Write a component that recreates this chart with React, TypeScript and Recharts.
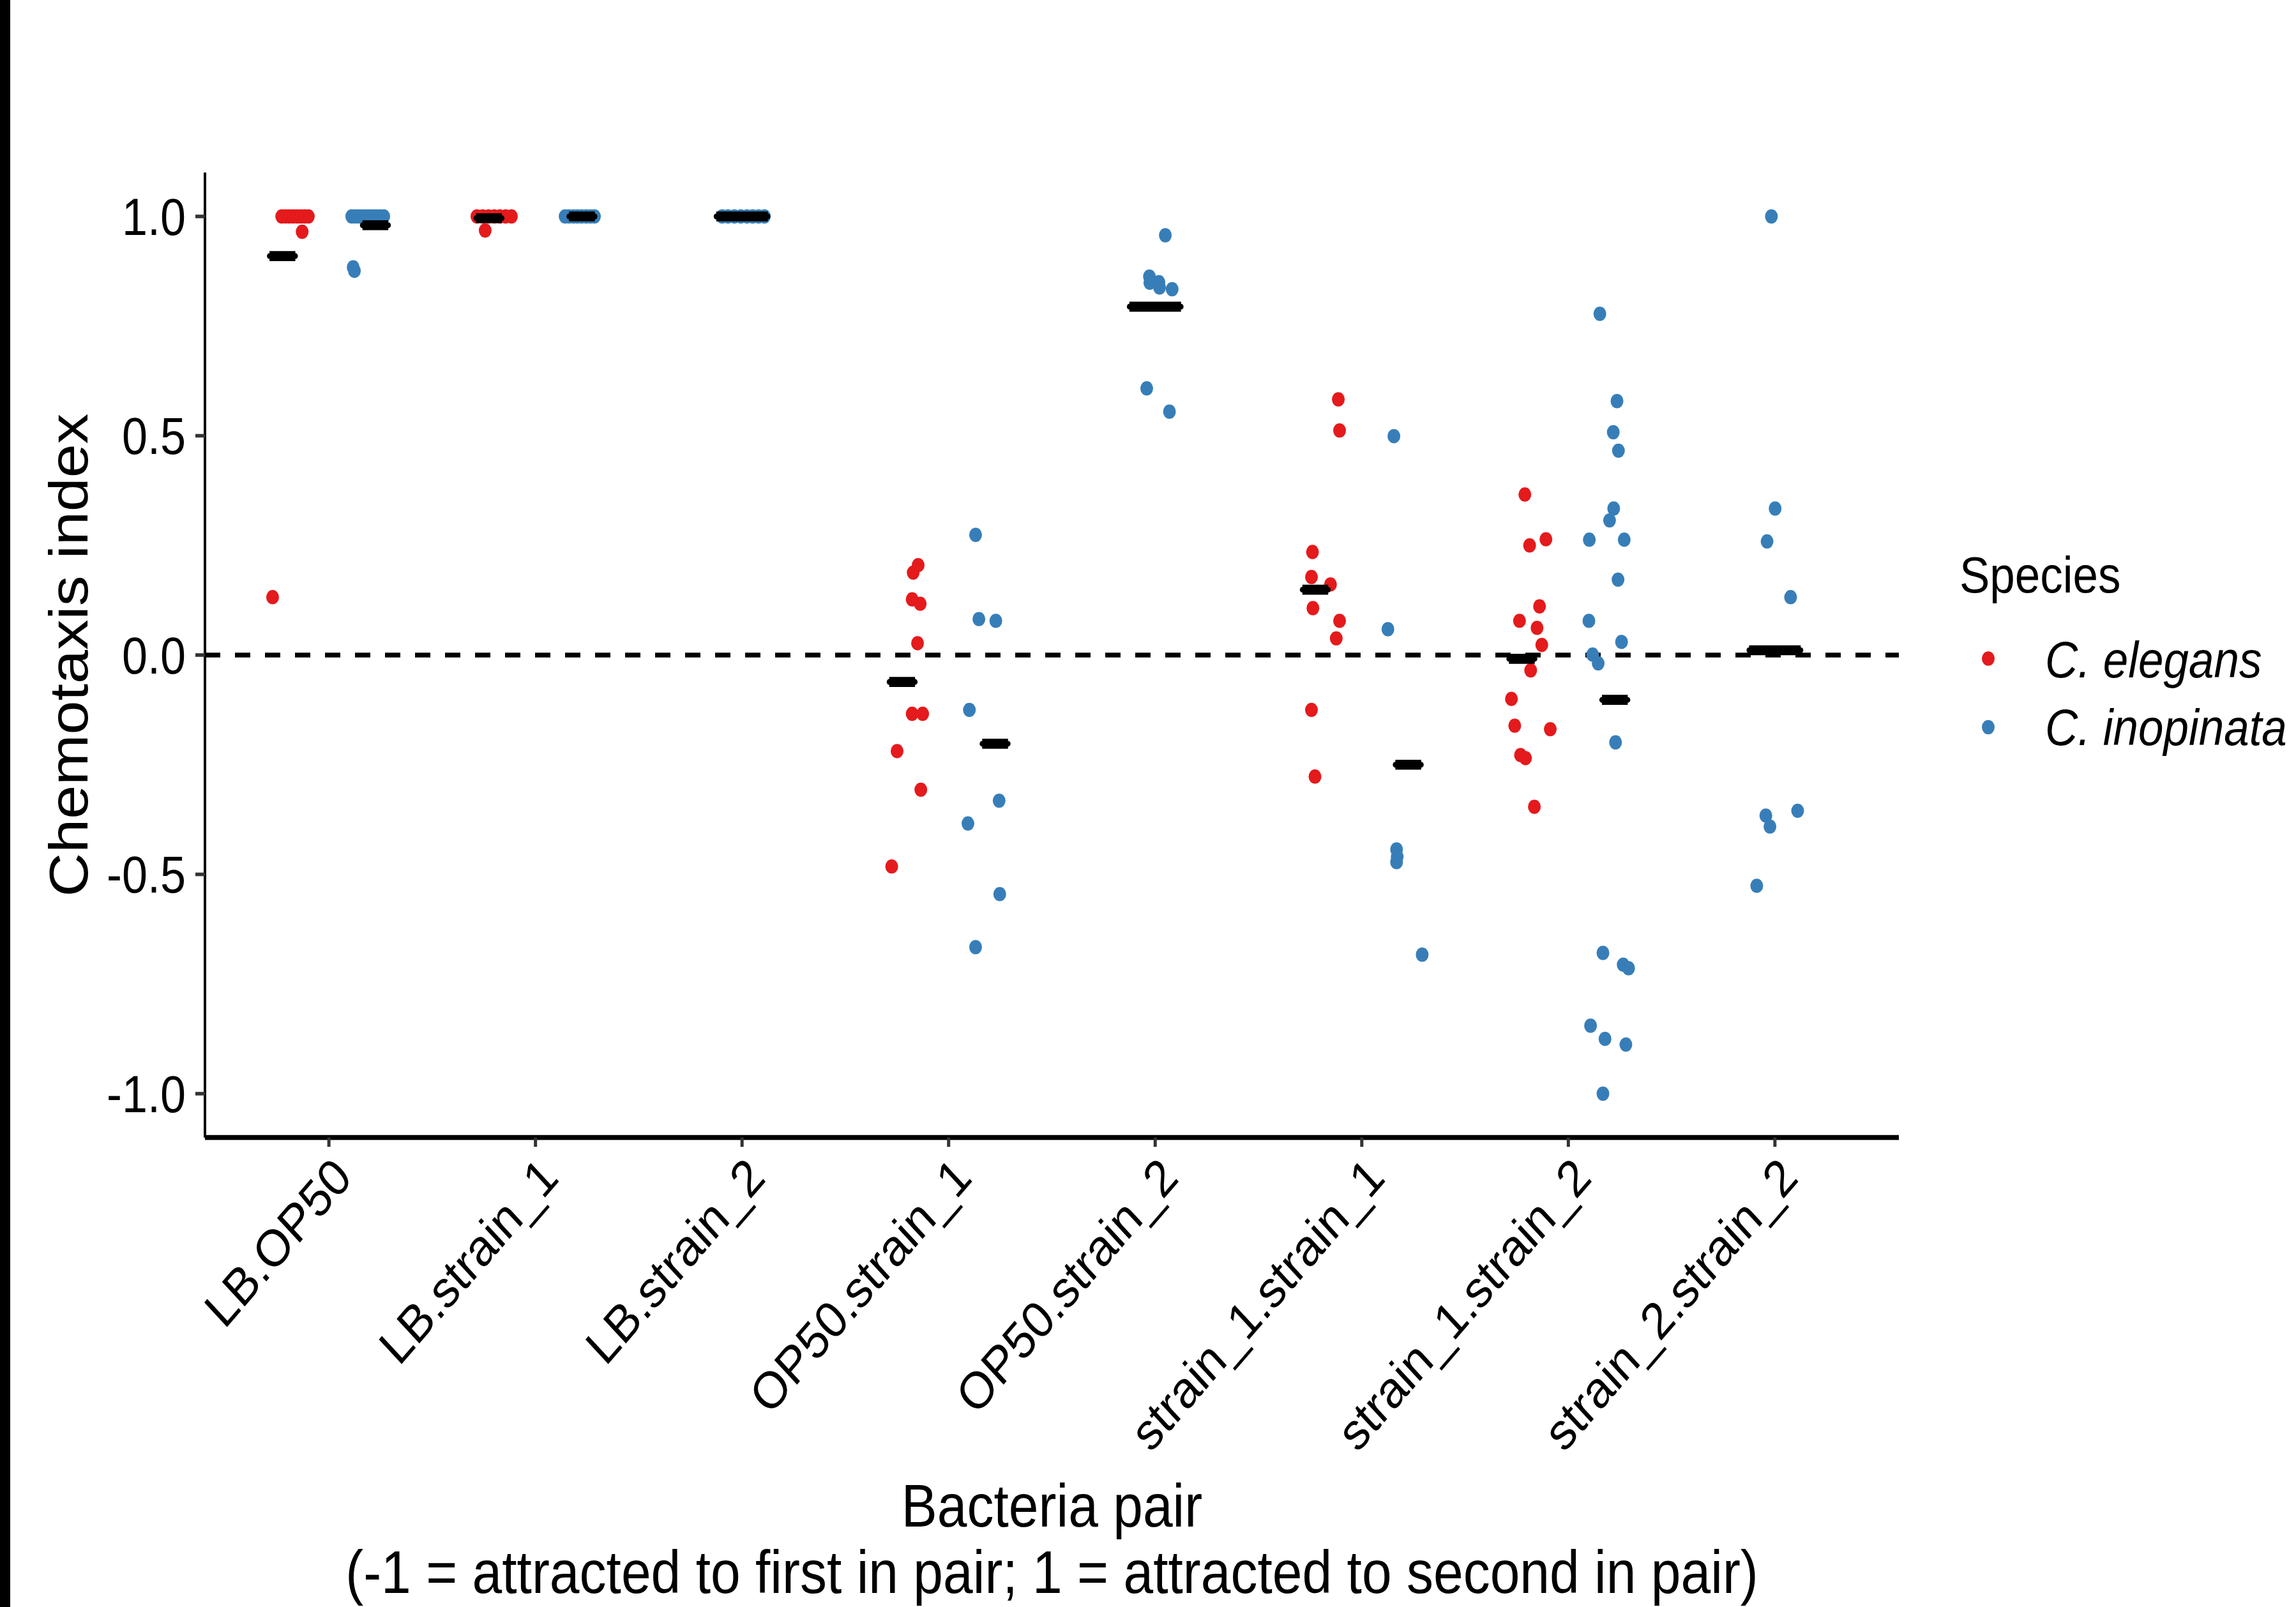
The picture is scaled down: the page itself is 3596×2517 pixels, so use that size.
import React from "react";
import { ComposedChart, Scatter, XAxis, YAxis, ReferenceLine } from "recharts";

// ---------- data ----------
const pairs = [
  "LB.OP50",
  "LB.strain_1",
  "LB.strain_2",
  "OP50.strain_1",
  "OP50.strain_2",
  "strain_1.strain_1",
  "strain_1.strain_2",
  "strain_2.strain_2",
];
const xTicks = [1, 2, 3, 4, 5, 6, 7, 8];
const yTicks = [-1, -0.5, 0, 0.5, 1];
const speciesNames = ["C. elegans", "C. inopinata"];
const speciesColors = ["#E41A1C", "#377EB8"];

// C. elegans chemotaxis indices (jitter = horizontal jitter, in category units)
const ceLbOp50 = [1, 1, 1, 1, 1, 1, 1, 1, 0.965, 0.132];
const ceLbOp50Jit = [-0.041, -0.023, -0.004, 0.014, 0.033, 0.051, 0.07, 0.088, 0.058, -0.085];
const ceLbS1 = [1, 1, 1, 1, 1, 1, 1, 0.968];
const ceLbS1Jit = [-0.096, -0.068, -0.04, -0.012, 0.015, 0.043, 0.071, -0.056];
const ceOp50S1 = [0.205, 0.188, 0.127, 0.117, 0.027, -0.134, -0.134, -0.219, -0.307, -0.482];
const ceOp50S1Jit = [0.04, 0.016, 0.011, 0.05, 0.037, 0.011, 0.062, -0.062, 0.053, -0.088];
const ceS1S1 = [0.583, 0.512, 0.235, 0.178, 0.161, 0.107, 0.078, 0.038, -0.125, -0.277];
const ceS1S1Jit = [0.074, 0.08, -0.051, -0.056, 0.036, -0.049, 0.08, 0.064, -0.056, -0.039];
const ceS1S2 = [0.366, 0.264, 0.25, 0.111, 0.078, 0.062, 0.023, -0.035, -0.1, -0.161, -0.169, -0.228, -0.235, -0.346];
const ceS1S2Jit = [-0.023, 0.079, 0, 0.048, -0.049, 0.036, 0.059, 0.005, -0.088, -0.072, 0.1, -0.044, -0.02, 0.023];

// C. inopinata chemotaxis indices
const ciLbOp50 = [1, 1, 1, 1, 1, 1, 1, 1, 1, 1, 0.884, 0.876];
const ciLbOp50Jit = [-0.077, -0.06, -0.043, -0.026, -0.009, 0.008, 0.025, 0.042, 0.059, 0.078, -0.07, -0.064];
const ciLbS1 = [1, 1, 1, 1, 1, 1, 1, 1];
const ciLbS1Jit = [-0.044, -0.026, -0.004, 0.015, 0.036, 0.058, 0.079, 0.098];
const ciLbS2 = [1, 1, 1, 1, 1, 1, 1, 1];
const ciLbS2Jit = [-0.096, -0.068, -0.037, -0.006, 0.024, 0.052, 0.08, 0.108];
const ciOp50S1 = [0.274, 0.082, 0.078, -0.125, -0.332, -0.384, -0.545, -0.666];
const ciOp50S1Jit = [-0.057, -0.041, 0.041, -0.087, 0.057, -0.094, 0.06, -0.057];
const ciOp50S2 = [0.957, 0.863, 0.849, 0.85, 0.838, 0.834, 0.608, 0.555];
const ciOp50S2Jit = [0.049, -0.028, -0.026, 0.018, 0.021, 0.082, -0.041, 0.069];
const ciS1S1 = [0.499, 0.059, -0.443, -0.46, -0.472, -0.683];
const ciS1S1Jit = [-0.032, -0.061, -0.019, -0.016, -0.019, 0.105];
const ciS1S2 = [0.778, 0.579, 0.508, 0.466, 0.334, 0.307, 0.263, 0.263, 0.172, 0.078, 0.03, 0.001, -0.019, -0.199, -0.679, -0.706, -0.714, -0.845, -0.875, -0.888, -1.0];
const ciS1S2Jit = [-0.035, 0.048, 0.03, 0.055, 0.032, 0.012, -0.086, 0.083, 0.053, -0.088, 0.07, -0.07, -0.043, 0.041, -0.02, 0.078, 0.104, -0.08, -0.01, 0.091, -0.02];
const ciS2S2 = [1.0, 0.334, 0.259, 0.132, -0.355, -0.366, -0.391, -0.526];
const ciS2S2Jit = [-0.017, 0.001, -0.038, 0.076, 0.11, -0.044, -0.024, -0.088];

type Group = { pair: string; values: number[]; jitter: number[] };

const elegansGroups: Group[] = [
  { pair: "LB.OP50", values: ceLbOp50, jitter: ceLbOp50Jit },
  { pair: "LB.strain_1", values: ceLbS1, jitter: ceLbS1Jit },
  { pair: "OP50.strain_1", values: ceOp50S1, jitter: ceOp50S1Jit },
  { pair: "strain_1.strain_1", values: ceS1S1, jitter: ceS1S1Jit },
  { pair: "strain_1.strain_2", values: ceS1S2, jitter: ceS1S2Jit },
];
const inopinataGroups: Group[] = [
  { pair: "LB.OP50", values: ciLbOp50, jitter: ciLbOp50Jit },
  { pair: "LB.strain_1", values: ciLbS1, jitter: ciLbS1Jit },
  { pair: "LB.strain_2", values: ciLbS2, jitter: ciLbS2Jit },
  { pair: "OP50.strain_1", values: ciOp50S1, jitter: ciOp50S1Jit },
  { pair: "OP50.strain_2", values: ciOp50S2, jitter: ciOp50S2Jit },
  { pair: "strain_1.strain_1", values: ciS1S1, jitter: ciS1S1Jit },
  { pair: "strain_1.strain_2", values: ciS1S2, jitter: ciS1S2Jit },
  { pair: "strain_2.strain_2", values: ciS2S2, jitter: ciS2S2Jit },
];
const speciesGroups = [elegansGroups, inopinataGroups];

// ---------- layout ----------
const FONT = "'Liberation Sans', Arial, Helvetica, sans-serif";
const W = 3596;
const H_FULL = 2517;
const H = 2247;
const SY = H_FULL / H;
const PLOT_TOP = 270.3 / SY;
const PLOT_BOTTOM = 1781.7 / SY;
const X_AXIS_H = 100;
const Y_AXIS_W = 200;
const PLOT_LEFT = 321;
const PLOT_RIGHT = 2974;

const POINT_DODGE = 0.1875;
const MEAN_DODGE = 0.225;
const MEAN_WIDTH = 0.25;

function speciesCount(pair: string) {
  return speciesGroups.filter((gs) => gs.some((g) => g.pair === pair)).length;
}
function slot(pair: string, s: number) {
  return speciesCount(pair) < 2 ? 0 : s === 0 ? -1 : 1;
}

function buildPoints(s: number) {
  const pts: { x: number; y: number }[] = [];
  speciesGroups[s].forEach((g) => {
    const base = pairs.indexOf(g.pair) + 1 + slot(g.pair, s) * POINT_DODGE;
    g.values.forEach((v, i) => pts.push({ x: base + g.jitter[i], y: v }));
  });
  return pts;
}

function buildMeans() {
  const out: { key: string; seg: { x: number; y: number }[] }[] = [];
  speciesGroups.forEach((gs, s) => {
    gs.forEach((g) => {
      const m = g.values.reduce((a, b) => a + b, 0) / g.values.length;
      const n = speciesCount(g.pair);
      const c = pairs.indexOf(g.pair) + 1 + slot(g.pair, s) * MEAN_DODGE;
      const half = MEAN_WIDTH / n / 2;
      out.push({ key: `${s}-${g.pair}`, seg: [{ x: c - half, y: m }, { x: c + half, y: m }] });
    });
  });
  return out;
}

function XTick(props: any) {
  const { x, y, payload } = props;
  const label = pairs[Math.round(payload.value) - 1];
  const ax = x + 2;
  const ay = y + 8;
  return (
    <text
      x={ax}
      y={ay}
      dy="0.72em"
      textAnchor="end"
      transform={`rotate(-46 ${ax} ${ay})`}
      fontSize={72}
      fontFamily={FONT}
      fill="#000"
    >
      {label}
    </text>
  );
}

export default function App() {
  const pts = [buildPoints(0), buildPoints(1)];
  const means = buildMeans();
  const legendTop = 828.6;
  return (
    <div
      style={{
        position: "absolute",
        left: 0,
        top: 0,
        width: W,
        height: H_FULL,
        background: "#fff",
        overflow: "hidden",
      }}
    >
      <div
        style={{
          position: "absolute",
          left: 0,
          top: 0,
          width: W,
          height: H,
          transform: `scaleY(${SY})`,
          transformOrigin: "0 0",
        }}
      >
        <ComposedChart
          width={W}
          height={H}
          margin={{
            top: PLOT_TOP,
            right: W - PLOT_RIGHT,
            bottom: H - PLOT_BOTTOM - X_AXIS_H,
            left: PLOT_LEFT - Y_AXIS_W,
          }}
        >
          <XAxis
            type="number"
            dataKey="x"
            domain={[0.4, 8.6]}
            ticks={xTicks}
            interval={0}
            allowDataOverflow
            height={X_AXIS_H}
            axisLine={{ stroke: "#000", strokeWidth: 7 }}
            tickLine={{ stroke: "#333", strokeWidth: 5 }}
            tickSize={13}
            tickMargin={2}
            tick={(p: any) => <XTick {...p} />}
          />
          <YAxis
            type="number"
            dataKey="y"
            domain={[-1.1, 1.1]}
            ticks={yTicks}
            interval={0}
            allowDataOverflow
            width={Y_AXIS_W}
            axisLine={{ stroke: "#000", strokeWidth: 4 }}
            tickLine={{ stroke: "#333", strokeWidth: 5 }}
            tickSize={15}
            tickMargin={15}
            tickFormatter={(v: number) => v.toFixed(1)}
            tick={{ fontSize: 72, fill: "#000", fontFamily: FONT }}
          />
          <ReferenceLine y={0} stroke="#000" strokeWidth={6.5} strokeDasharray="24 23" />
          {pts.map((data, s) => (
            <Scatter
              key={`pts-${s}`}
              data={data}
              fill={speciesColors[s]}
              isAnimationActive={false}
              shape={(p: any) => <circle cx={p.cx} cy={p.cy} r={10} fill={speciesColors[s]} />}
            />
          ))}
          {means.map((m) => (
            <Scatter
              key={`mean-${m.key}`}
              data={m.seg}
              fill="#000"
              line={{ stroke: "#000", strokeWidth: 14 }}
              isAnimationActive={false}
              shape={(p: any) => <circle cx={p.cx} cy={p.cy} r={4} fill="#000" />}
            />
          ))}
        </ComposedChart>
        <svg
          width={W}
          height={H}
          style={{ position: "absolute", left: 0, top: 0, overflow: "visible", pointerEvents: "none" }}
        >
          <text
            x={137}
            y={1026 / SY}
            textAnchor="middle"
            transform={`rotate(-90 137 ${1026 / SY})`}
            fontSize={85}
            fontFamily={FONT}
            fill="#000"
          >
            Chemotaxis index
          </text>
          <text x={(PLOT_LEFT + PLOT_RIGHT) / 2} y={2391 / SY} textAnchor="middle" fontSize={84} fontFamily={FONT} fill="#000">
            Bacteria pair
          </text>
          <text x={(PLOT_LEFT + PLOT_RIGHT) / 2} y={2495 / SY} textAnchor="middle" fontSize={84} fontFamily={FONT} fill="#000">
            (-1 = attracted to first in pair; 1 = attracted to second in pair)
          </text>
          <text x={3069} y={legendTop} fontSize={71} fontFamily={FONT} fill="#000">
            Species
          </text>
          {speciesNames.map((name, i) => (
            <g key={name}>
              <circle cx={3114} cy={(1031.5 + i * 107.5) / SY} r={10} fill={speciesColors[i]} />
              <text
                x={3203}
                y={(1061 + i * 106) / SY}
                fontSize={71}
                fontStyle="italic"
                fontFamily={FONT}
                fill="#000"
              >
                {name}
              </text>
            </g>
          ))}
        </svg>
      </div>
      <div style={{ position: "absolute", left: 0, top: 0, width: 16, height: H_FULL, background: "#000" }} />
    </div>
  );
}
